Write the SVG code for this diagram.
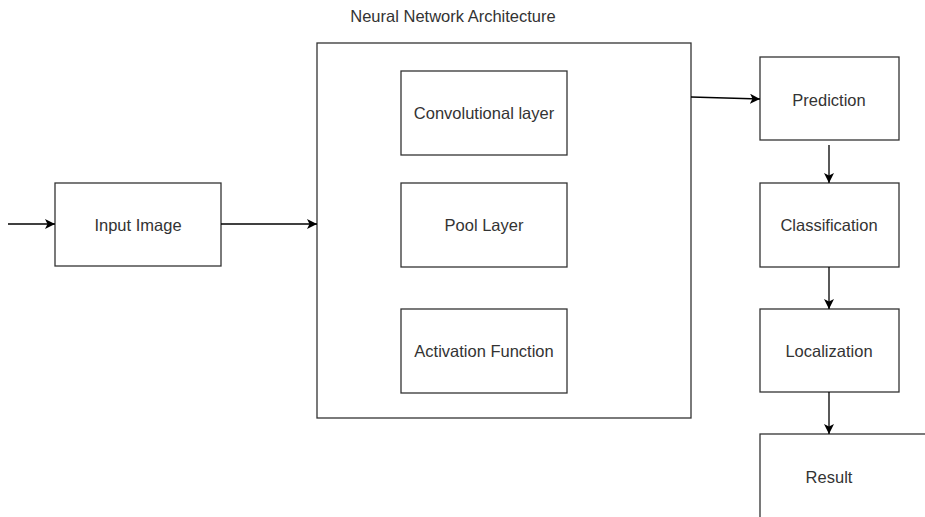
<svg xmlns="http://www.w3.org/2000/svg" width="925" height="517" viewBox="0 0 925 517">
<style>
.box{fill:#fff;stroke:#333;stroke-width:1.3}
.lbl{font-family:"Liberation Sans",Arial,sans-serif;font-size:16.5px;fill:#333;text-anchor:middle;dominant-baseline:central}
.edge{stroke:#000;stroke-width:1.3;fill:none;marker-end:url(#arr)}
</style>
<defs>
<marker id="arr" viewBox="0 0 10 10" refX="10" refY="5" markerWidth="10" markerHeight="10" markerUnits="userSpaceOnUse" orient="auto">
<path d="M0,0 L10,5 L0,10 L2.5,5 Z" fill="#000"/>
</marker>
</defs>
<rect width="925" height="517" fill="#fff"/>
<g id="main">
<rect class="box" x="317" y="43" width="374" height="375"/>
<text class="lbl" x="453" y="16">Neural Network Architecture</text>
</g>
<g id="input"><rect class="box" x="55" y="183" width="166" height="83"/><text class="lbl" x="138" y="225">Input Image</text></g>
<g id="conv"><rect class="box" x="401" y="71" width="166" height="84"/><text class="lbl" x="484" y="113">Convolutional layer</text></g>
<g id="pool"><rect class="box" x="401" y="183" width="166" height="84"/><text class="lbl" x="484" y="225">Pool Layer</text></g>
<g id="activation"><rect class="box" x="401" y="309" width="166" height="84"/><text class="lbl" x="484" y="351">Activation Function</text></g>
<g id="prediction"><rect class="box" x="760" y="57" width="139" height="83"/><text class="lbl" x="829" y="100">Prediction</text></g>
<g id="classification"><rect class="box" x="760" y="183" width="139" height="84"/><text class="lbl" x="829" y="225">Classification</text></g>
<g id="localization"><rect class="box" x="760" y="309" width="139" height="83"/><text class="lbl" x="829" y="351">Localization</text></g>
<g id="result"><rect class="box" x="760" y="434" width="180" height="100"/><text class="lbl" x="829" y="477">Result</text></g>
<g id="connectors">
<line class="edge" x1="8" y1="224" x2="55" y2="224"/>
<line class="edge" x1="221" y1="224" x2="317" y2="224"/>
<line class="edge" x1="691" y1="97" x2="760" y2="99"/>
<line class="edge" x1="829" y1="145" x2="829" y2="183"/>
<line class="edge" x1="829" y1="267" x2="829" y2="309"/>
<line class="edge" x1="829" y1="392" x2="829" y2="434"/>
</g>
</svg>
